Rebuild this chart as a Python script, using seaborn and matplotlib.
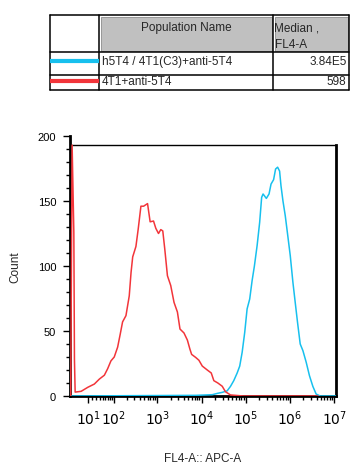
import numpy as np
import pandas as pd
import seaborn as sns
import matplotlib.pyplot as plt
from matplotlib.patches import Rectangle
from matplotlib.ticker import FixedLocator, MultipleLocator

# histogram traces (FL4-A value, count)
red_fl4 = [-33, -29, -24.4, -22.8, -21, -6.6, 8.8, 24.9, 39, 55.9, 69, 84, 101.7, 123, 142, 161, 193,
           230, 253, 276, 327, 369, 425, 489, 601, 688, 821, 925, 1064, 1199, 1330, 1476, 1695, 2012,
           2390, 2850, 3260, 4010, 4790, 5470, 5980, 7360, 8730, 10420, 13490, 16600, 19000, 23400,
           29400, 34800, 45200, 88700, 4.33e6]
red_count = [0, 193, 126, 28, 3, 3.6, 6.7, 9.2, 13, 16, 21, 27, 30, 37.6, 47.7, 57, 61.8,
             77, 95, 107, 115, 128.5, 146, 146, 148, 134, 134.6, 129, 125, 128, 127, 113, 92.5, 85,
             72, 64.6, 51.5, 48.5, 43, 36, 32, 29.7, 27.5, 23, 20, 17.7, 11.8, 10,
             7.5, 3.3, 0.8, 0, 0]

blue_fl4 = [-35, 7360, 17500, 22700, 29400, 38100, 45200, 53600, 64000, 73100, 83000, 94900, 107400,
            123000, 139300, 157000, 180700, 206600, 229000, 246600, 292500, 336500, 373300, 426600,
            473200, 526000, 583400, 626600, 695000, 783000, 883000, 1016000, 1167000, 1315000, 1483000,
            1706000, 1963000, 2328000, 2763000, 3296000, 3909000, 4810000, 1.1e7]
blue_count = [0, 0.5, 1, 2, 2.8, 4, 7.4, 11.8, 17.7, 23, 33.6, 49, 67,
              74.6, 88.7, 100, 115.6, 133.6, 152.8, 155.4, 152, 155.4, 163, 166.4,
              174.6, 176, 173, 161.8, 150, 138.7, 124.6, 108, 87.4, 72, 56.7,
              40, 34.9, 26, 15.6, 7.4, 1.5, 0, 0]

populations = ['h5T4 / 4T1(C3)+anti-5T4', '4T1+anti-5T4']
medians = ['3.84E5', '598']
colors = ['#17c0ee', '#f2353a']

decades = [1, 2, 3, 4, 5, 6, 7]
frame_top = 193  # FlowJo draws the box a bit below the 200 tick

sns.set_theme(style='ticks')
plt.rcParams['font.family'] = ['Liberation Sans', 'DejaVu Sans']

# biexponential-like display scale (asinh)
A = 22.0
def fwd(v):
    return np.arcsinh(np.asarray(v, dtype=float) / (2 * A)) / np.log(10) + np.log10(A)
def inv(u):
    return 2 * A * np.sinh((np.asarray(u, dtype=float) - np.log10(A)) * np.log(10))

fig = plt.figure(figsize=(3.62, 4.77), dpi=100)
ax = fig.add_axes([70 / 362, 80 / 477, 266 / 362, 260 / 477])
ax.set_xscale('function', functions=(fwd, inv))

blue_df = pd.DataFrame({'x': blue_fl4, 'y': blue_count})
red_df = pd.DataFrame({'x': red_fl4, 'y': red_count})
sns.lineplot(data=blue_df, x='x', y='y', estimator=None, sort=False, color=colors[0], lw=1.1, ax=ax, zorder=3)
sns.lineplot(data=red_df, x='x', y='y', estimator=None, sort=False, color=colors[1], lw=1.1, ax=ax, zorder=3)

ax.set_xlim(-35, 1.1e7)
ax.set_ylim(0, 200)
ax.xaxis.set_major_locator(FixedLocator([10.0 ** d for d in decades]))
ax.xaxis.set_minor_locator(FixedLocator([k * 10.0 ** d for d in decades[:-1] for k in range(2, 10)]))
ax.set_xticklabels([f'$10^{{{d}}}$' for d in decades], fontsize=10)
ax.yaxis.set_major_locator(MultipleLocator(50))
ax.yaxis.set_minor_locator(MultipleLocator(10))
ax.tick_params(axis='y', labelsize=8, length=5, width=1, pad=5, colors='black')
ax.tick_params(axis='x', length=5, width=1, pad=4, colors='black')
ax.tick_params(which='minor', length=3, width=1, color='black')
ax.tick_params(axis='both', right=False, top=False)

for side in ['left', 'bottom', 'right']:
    ax.spines[side].set_linewidth(2)
    ax.spines[side].set_color('black')
ax.spines['right'].set_visible(True)
ax.spines['right'].set_bounds(0, frame_top)
ax.spines['top'].set_visible(False)
ax.axhline(frame_top, color='black', lw=1)

ax.set_xlabel('FL4-A:: APC-A', fontsize=8.5, labelpad=18)
ax.set_ylabel('Count', fontsize=8.5, labelpad=12)

# legend table on top
tab = fig.add_axes([50 / 362, (477 - 91) / 477, 299 / 362, 75 / 477])
tab.set_xlim(0, 299)
tab.set_ylim(75, 0)
tab.axis('off')
col_edges = [0, 49.3, 223.3, 299]
row_edges = [0, 37.3, 60, 75]

for c in [1, 2]:
    w = col_edges[c + 1] - col_edges[c]
    tab.add_patch(Rectangle((col_edges[c] + 1.5, 1.5), w - 3, row_edges[1] - 3,
                            facecolor='#c0c0c0', edgecolor='#8c8c8c', lw=0.6))
for xe in col_edges:
    tab.plot([xe, xe], [0, 75], color='black', lw=1.1, clip_on=False)
for ye in row_edges:
    tab.plot([0, 299], [ye, ye], color='black', lw=1.1, clip_on=False)

tab.text(136.3, 12.5, 'Population Name', ha='center', va='center', fontsize=8.5)
tab.text(224.5, 12.5, 'Median ,', ha='left', va='center', fontsize=8.5)
tab.text(224.5, 29, 'FL4-A', ha='left', va='center', fontsize=8.5)

row_y = [46, 66]
for i in range(2):
    tab.plot([0, 49.3], [row_y[i], row_y[i]], color=colors[i], lw=3, solid_capstyle='butt')
    tab.text(51.5, row_y[i], populations[i], ha='left', va='center', fontsize=8.5)
    tab.text(296.5, row_y[i], medians[i], ha='right', va='center', fontsize=8.5)

fig.savefig('out.png', dpi=100)
